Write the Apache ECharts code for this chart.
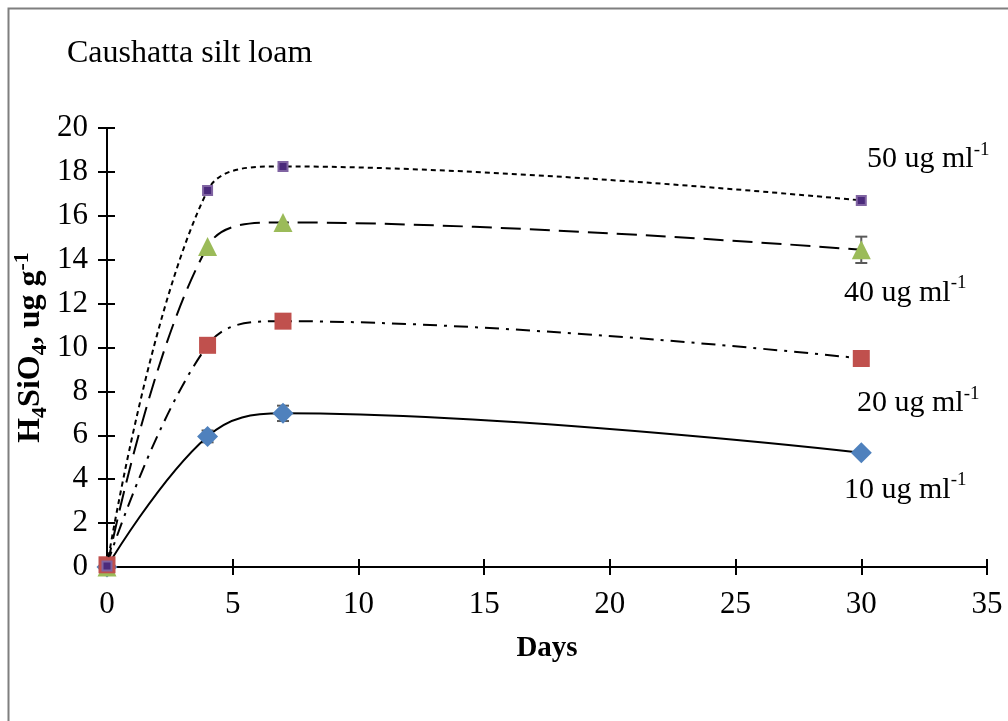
<!DOCTYPE html>
<html>
<head>
<meta charset="utf-8">
<script src="https://cdn.jsdelivr.net/npm/echarts@6/dist/echarts.min.js"></script>
<style>
  html, body { margin: 0; padding: 0; background: #fff; }
  #chart { width: 1008px; height: 721px; }
</style>
</head>
<body>
<div id="chart"></div>
<script>
// data
const days = [0, 4, 7, 30]
const conc10 = [0, 5.95, 7.0, 5.2]
const err10 = [0, 0.27, 0.35, 0]
const conc20 = [0.1, 10.1, 11.2, 9.5]
const err20 = [0, 0, 0, 0]
const conc40 = [0, 14.6, 15.7, 14.45]
const err40 = [0, 0, 0, 0.6]
const conc50 = [0.05, 17.15, 18.25, 16.7]
const err50 = [0, 0, 0, 0]
const seriesNames = ['10 ug ml', '20 ug ml', '40 ug ml', '50 ug ml']
const yTicks = { min: 0, max: 20, interval: 2 }
const xTicks = { min: 0, max: 35, interval: 5 }

const FONT = "'Liberation Serif', 'Times New Roman', serif"

const chart = echarts.init(document.getElementById('chart'))

// label for the last point of a series
const lastLabel = (name, offset) => ({
  show: true,
  position: 'inside',
  offset: offset,
  formatter: '{n|' + name + '}{s|-1}',
  rich: {
    n: { fontFamily: FONT, fontSize: 30, color: '#000', lineHeight: 34, verticalAlign: 'bottom' },
    s: { fontFamily: FONT, fontSize: 19, color: '#000', lineHeight: 34, verticalAlign: 'top' }
  }
})

const buildData = (vals, labelCfg) =>
  days.map((d, i) => {
    if (i === days.length - 1) return { value: [d, vals[i]], label: labelCfg }
    return [d, vals[i]]
  })

const lineSeries = (name, vals, color, symbol, size, dash, labelCfg, extra) => Object.assign({
  name: name,
  type: 'line',
  smooth: 0.4,
  data: buildData(vals, labelCfg),
  symbol: symbol,
  symbolSize: size,
  itemStyle: { color: color },
  lineStyle: { color: '#000', width: 2, type: dash },
  label: { show: false },
  emphasis: { disabled: true },
  animation: false
}, extra || {})

// error bars (vertical line with caps)
const errSeries = (vals, errs) => ({
  type: 'custom',
  renderItem: (params, api) => {
    const x = api.value(0)
    const y = api.value(1)
    const e = api.value(2)
    if (!e) return null
    const top = api.coord([x, y + e])
    const bot = api.coord([x, y - e])
    const w = 6
    const style = { stroke: '#595959', lineWidth: 2 }
    return {
      type: 'group',
      children: [
        { type: 'line', shape: { x1: top[0], y1: top[1], x2: bot[0], y2: bot[1] }, style: style },
        { type: 'line', shape: { x1: top[0] - w, y1: top[1], x2: top[0] + w, y2: top[1] }, style: style },
        { type: 'line', shape: { x1: bot[0] - w, y1: bot[1], x2: bot[0] + w, y2: bot[1] }, style: style }
      ]
    }
  },
  data: days.map((d, i) => [d, vals[i], errs[i]]),
  z: 1,
  silent: true,
  animation: false
})

const option = {
  backgroundColor: '#fff',
  animation: false,
  title: {
    text: 'Caushatta silt loam',
    left: 67,
    top: 38,
    padding: 0,
    textStyle: { fontFamily: FONT, fontSize: 32, fontWeight: 'normal', color: '#000' }
  },
  graphic: [
    {
      type: 'rect',
      shape: { x: 8.5, y: 8.5, width: 1020, height: 740 },
      style: { fill: 'none', stroke: '#7f7f7f', lineWidth: 2 },
      silent: true,
      z: -1
    }
  ],
  grid: { left: 107, right: 21, top: 128, bottom: 154, containLabel: false, outerBoundsMode: 'none' },
  xAxis: [
    {
      type: 'value',
      min: xTicks.min, max: xTicks.max, interval: xTicks.interval,
      name: 'Days',
      nameLocation: 'middle',
      nameGap: 67,
      nameMoveOverlap: false,
      nameTextStyle: { fontFamily: FONT, fontSize: 29, fontWeight: 'bold', color: '#000' },
      axisLine: { show: true, lineStyle: { color: '#000', width: 2 } },
      axisTick: { show: true, length: 8, lineStyle: { color: '#000', width: 2 } },
      axisLabel: { fontFamily: FONT, fontSize: 31, color: '#000', margin: 22 },
      splitLine: { show: false }
    },
    {
      // inner half of the crossing ticks
      type: 'value',
      position: 'bottom',
      min: xTicks.min, max: xTicks.max, interval: xTicks.interval,
      axisLine: { show: false },
      axisTick: { show: true, inside: true, length: 8, lineStyle: { color: '#000', width: 2 } },
      axisLabel: { show: false },
      splitLine: { show: false }
    }
  ],
  yAxis: [
    {
      type: 'value',
      min: yTicks.min, max: yTicks.max, interval: yTicks.interval,
      name: '{b|H}{sub|4}{b|SiO}{sub|4}{b|, ug g}{sup|-1}',
      nameLocation: 'middle',
      nameGap: 56,
      nameRotate: 90,
      nameMoveOverlap: false,
      nameTextStyle: {
        rich: {
          b: { fontFamily: FONT, fontSize: 32, fontWeight: 'bold', color: '#000', lineHeight: 40, verticalAlign: 'middle' },
          sub: { fontFamily: FONT, fontSize: 22, fontWeight: 'bold', color: '#000', lineHeight: 40, verticalAlign: 'bottom' },
          sup: { fontFamily: FONT, fontSize: 22, fontWeight: 'bold', color: '#000', lineHeight: 40, verticalAlign: 'top' }
        }
      },
      axisLine: { show: true, lineStyle: { color: '#000', width: 2 } },
      axisTick: { show: true, length: 9, lineStyle: { color: '#000', width: 2 } },
      axisLabel: { fontFamily: FONT, fontSize: 31, color: '#000', margin: 19 },
      splitLine: { show: false }
    },
    {
      type: 'value',
      position: 'left',
      min: yTicks.min, max: yTicks.max, interval: yTicks.interval,
      axisLine: { show: false },
      axisTick: { show: true, inside: true, length: 8, lineStyle: { color: '#000', width: 2 } },
      axisLabel: { show: false },
      splitLine: { show: false }
    }
  ],
  series: [
    errSeries(conc10, err10),
    errSeries(conc20, err20),
    errSeries(conc40, err40),
    errSeries(conc50, err50),
    lineSeries(seriesNames[0], conc10, '#4F81BD', 'diamond', 21, 'solid', lastLabel(seriesNames[0], [44, 35]), { z: 2 }),
    lineSeries(seriesNames[2], conc40, '#9BBB59', 'triangle', 19, [20, 9], lastLabel(seriesNames[2], [44, 41]), { z: 3 }),
    lineSeries(seriesNames[1], conc20, '#C0504D', 'rect', 17, [14, 7, 3, 7], lastLabel(seriesNames[1], [57, 43]), { z: 4 }),
    lineSeries(seriesNames[3], conc50, '#4B2A7B', 'rect', 9, [5, 4], lastLabel(seriesNames[3], [67, -43]), {
      z: 5,
      itemStyle: { color: '#4B2A7B', borderColor: '#8064A2', borderWidth: 2 }
    })
  ]
}

chart.setOption(option)
</script>
</body>
</html>
